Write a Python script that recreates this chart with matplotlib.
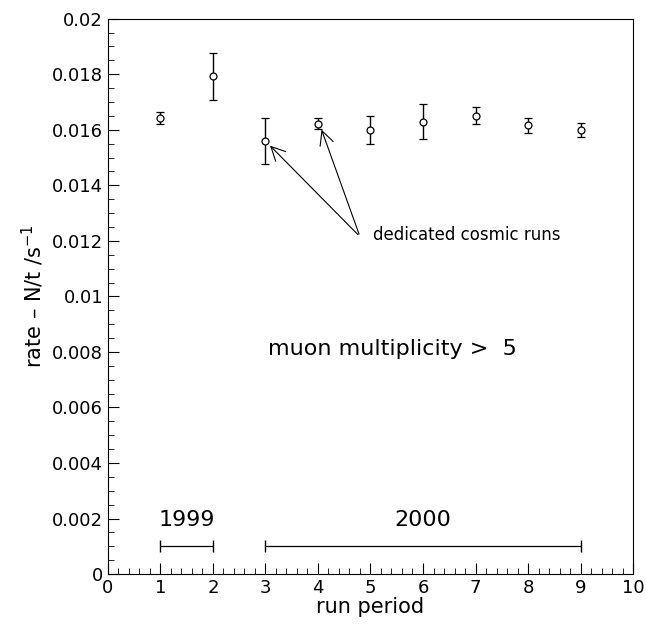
import numpy as np
import matplotlib
matplotlib.use("Agg")
import matplotlib.pyplot as plt
from matplotlib.ticker import MultipleLocator

period = [1, 2, 3, 4, 5, 6, 7, 8, 9]
rate = [0.01643, 0.01792, 0.01559, 0.01622, 0.01598, 0.01629, 0.01651, 0.01616, 0.01599]
err = [0.00022, 0.00085, 0.00083, 0.0002, 0.0005, 0.00063, 0.0003, 0.00028, 0.00024]

plt.rcParams['font.family'] = 'DejaVu Sans'
fig = plt.figure(figsize=(6.46, 6.24), dpi=100)
ax = fig.add_axes([0.167, 0.08, 0.813, 0.89])

ax.errorbar(period, rate, yerr=err, fmt='o', mfc='white', mec='black', ms=5,
            ecolor='black', elinewidth=1, capsize=3, color='black', mew=0.9)

ax.set_xlim(0, 10)
ax.set_ylim(0, 0.02)
ax.xaxis.set_major_locator(MultipleLocator(1))
ax.xaxis.set_minor_locator(MultipleLocator(0.2))
ax.yaxis.set_major_locator(MultipleLocator(0.002))
ax.yaxis.set_minor_locator(MultipleLocator(0.0005))
ax.tick_params(which='both', direction='in', top=False, right=False, labelsize=13)
ax.tick_params(which='major', length=8)
ax.tick_params(which='minor', length=4)
ax.set_yticks(np.arange(0, 0.0201, 0.002))
ax.set_yticklabels(['0'] + ['%g' % v for v in np.arange(0.002, 0.0201, 0.002)])
ax.set_xlabel('run period', fontsize=15, labelpad=0)
ax.set_ylabel('rate – N/t /s$^{-1}$', fontsize=15)

# year ranges
ax.errorbar([1.5], [0.001], xerr=[0.5], fmt='none', ecolor='black', elinewidth=0.9, capsize=4)
ax.errorbar([6], [0.001], xerr=[3], fmt='none', ecolor='black', elinewidth=0.9, capsize=4)
ax.text(1.5, 0.0016, '1999', ha='center', va='bottom', fontsize=16)
ax.text(6, 0.0016, '2000', ha='center', va='bottom', fontsize=16)

ax.text(3.05, 0.0081, 'muon multiplicity >  5', fontsize=16, va='center')

ax.text(5.05, 0.0122, 'dedicated cosmic runs', fontsize=12, va='center')
for xt, yt in [(3.05, 0.0155), (4.05, 0.0161)]:
    ax.annotate('', xy=(xt, yt), xytext=(4.8, 0.01215),
                arrowprops=dict(arrowstyle='->', lw=0.8, color='black', mutation_scale=25))

fig.savefig('out.png', dpi=100)
